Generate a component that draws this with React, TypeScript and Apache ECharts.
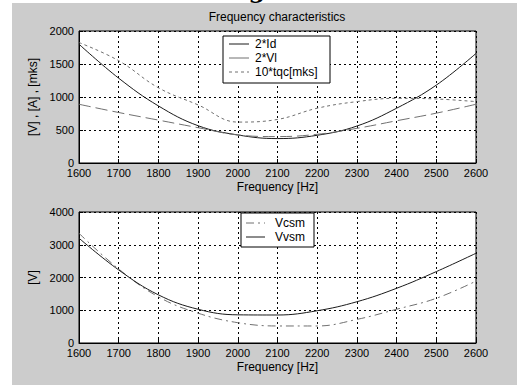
import React, { useEffect, useRef } from "react";
import * as echarts from "echarts";

const freqs = [1600, 1700, 1800, 1900, 2000, 2100, 2200, 2300, 2400, 2500, 2600];
const id2 = [1800, 1285, 865, 565, 425, 370, 420, 560, 830, 1180, 1660];
const vl2 = [890, 765, 650, 535, 425, 400, 435, 525, 640, 755, 890];
const tqc10 = [1825, 1550, 1140, 880, 620, 660, 830, 930, 980, 970, 930];
const vcsm = [3350, 2260, 1410, 910, 620, 520, 520, 720, 1030, 1365, 1890];
const vvsm = [3200, 2230, 1470, 1030, 860, 855, 985, 1260, 1670, 2180, 2740];

const titleText = "Frequency characteristics";
const xName = "Frequency [Hz]";
const yNameTop = "[V] , [A] , [mks]";
const yNameBottom = "[V]";
const legendTop = ["2*Id", "2*Vl", "10*tqc[mks]"];
const legendBottom = ["Vcsm", "Vvsm"];

const FONT = "'Liberation Sans', Arial, sans-serif";

const pairs = (ys: number[]) => freqs.map((f, i) => [f, ys[i]]);

export default function App() {
  const ref = useRef<HTMLDivElement>(null);
  useEffect(() => {
    if (!ref.current) return;
    const chart = echarts.init(ref.current, null, { renderer: "svg" });
    const xAxisBase = (gridIndex: number) => ({
      type: "value",
      gridIndex,
      min: 1600,
      max: 2600,
      interval: 100,
      name: xName,
      nameLocation: "middle",
      nameGap: 18,
      nameTextStyle: { color: "#000", fontSize: 12, fontFamily: FONT },
      axisLine: { show: true, lineStyle: { color: "#000", width: 1 } },
      axisTick: { show: true, inside: true, length: 4, lineStyle: { color: "#000" } },
      axisLabel: { color: "#000", fontSize: 11, fontFamily: FONT, margin: 4, formatter: (v: number) => String(v) },
      splitLine: { show: true, lineStyle: { color: "#000", type: [2, 3], width: 1 } },
    });
    const yAxisBase = (gridIndex: number, max: number, interval: number, name: string) => ({
      type: "value",
      gridIndex,
      min: 0,
      max,
      interval,
      name,
      nameLocation: "middle",
      nameGap: 33,
      nameTextStyle: { color: "#000", fontSize: 12, fontFamily: FONT },
      axisLine: { show: true, lineStyle: { color: "#000", width: 1 } },
      axisTick: { show: true, inside: true, length: 4, lineStyle: { color: "#000" } },
      axisLabel: { color: "#000", fontSize: 11, fontFamily: FONT, margin: 5, formatter: (v: number) => String(v) },
      splitLine: { show: true, lineStyle: { color: "#000", type: [2, 3], width: 1 } },
    });
    const line = (
      name: string,
      data: number[],
      xi: number,
      color: string,
      type: any
    ) => ({
      name,
      type: "line",
      xAxisIndex: xi,
      yAxisIndex: xi,
      data: pairs(data),
      smooth: 0.4,
      showSymbol: false,
      symbol: "none",
      lineStyle: { color, width: 1, type },
      z: 3,
    });

    const legendBox = (
      x: number,
      y: number,
      w: number,
      h: number,
      items: string[],
      styles: { color: string; dash: any }[],
      rowY: number[],
      lineX: [number, number],
      textX: number
    ) => {
      const children: any[] = [
        {
          type: "rect",
          shape: { x, y, width: w, height: h },
          style: { fill: "#fff", stroke: "#000", lineWidth: 1 },
          z: 10,
        },
      ];
      items.forEach((t, i) => {
        children.push({
          type: "line",
          shape: { x1: lineX[0], y1: rowY[i], x2: lineX[1], y2: rowY[i] },
          style: { stroke: styles[i].color, lineWidth: 1, lineDash: styles[i].dash },
          z: 11,
        });
        children.push({
          type: "text",
          x: textX,
          y: rowY[i],
          style: {
            text: t,
            fill: "#000",
            font: `12px ${FONT}`,
            textVerticalAlign: "middle",
            verticalAlign: "middle",
          },
          z: 11,
        });
      });
      return children;
    };

    chart.setOption({
      animation: false,
      backgroundColor: "#fff",
      grid: [
        { left: 79, top: 31, width: 397, height: 132, show: true, backgroundColor: "#fff", borderColor: "#000", borderWidth: 1 },
        { left: 79, top: 212, width: 397, height: 131, show: true, backgroundColor: "#fff", borderColor: "#000", borderWidth: 1 },
      ],
      xAxis: [xAxisBase(0), xAxisBase(1)],
      yAxis: [yAxisBase(0, 2000, 500, yNameTop), yAxisBase(1, 4000, 1000, yNameBottom)],
      series: [
        line(legendTop[0], id2, 0, "#1a1a1a", "solid"),
        line(legendTop[1], vl2, 0, "#707070", [12, 5]),
        line(legendTop[2], tqc10, 0, "#707070", [3, 3]),
        line(legendBottom[0], vcsm, 1, "#707070", [8, 4, 2, 4]),
        line(legendBottom[1], vvsm, 1, "#1a1a1a", "solid"),
      ],
      graphic: [
        {
          type: "rect",
          shape: { x: 12, y: 3, width: 505, height: 382 },
          style: { fill: "#cccccc" },
          z: -10,
          silent: true,
        },
        {
          type: "text",
          x: 257,
          y: -23,
          style: { text: "g", fill: "#000", font: "bold 24px 'DejaVu Serif', serif", textAlign: "center" },
          z: 5,
        },
        {
          type: "text",
          x: 277,
          y: 17,
          style: {
            text: titleText,
            fill: "#000",
            font: `12px ${FONT}`,
            textAlign: "center",
            textVerticalAlign: "middle",
            verticalAlign: "middle",
          },
        },
        ...legendBox(
          223, 36, 107, 47,
          legendTop,
          [
            { color: "#1a1a1a", dash: null },
            { color: "#707070", dash: null },
            { color: "#707070", dash: [3, 3] },
          ],
          [44, 58, 72],
          [229, 249],
          255
        ),
        ...legendBox(
          241, 213, 73, 34,
          legendBottom,
          [
            { color: "#707070", dash: [8, 4, 2, 4] },
            { color: "#1a1a1a", dash: null },
          ],
          [223, 237],
          [246, 265],
          275
        ),
      ],
    });
    return () => chart.dispose();
  }, []);
  return (
    <div
      ref={ref}
      style={{ position: "fixed", left: 0, top: 0, width: 517, height: 385 }}
    />
  );
}
